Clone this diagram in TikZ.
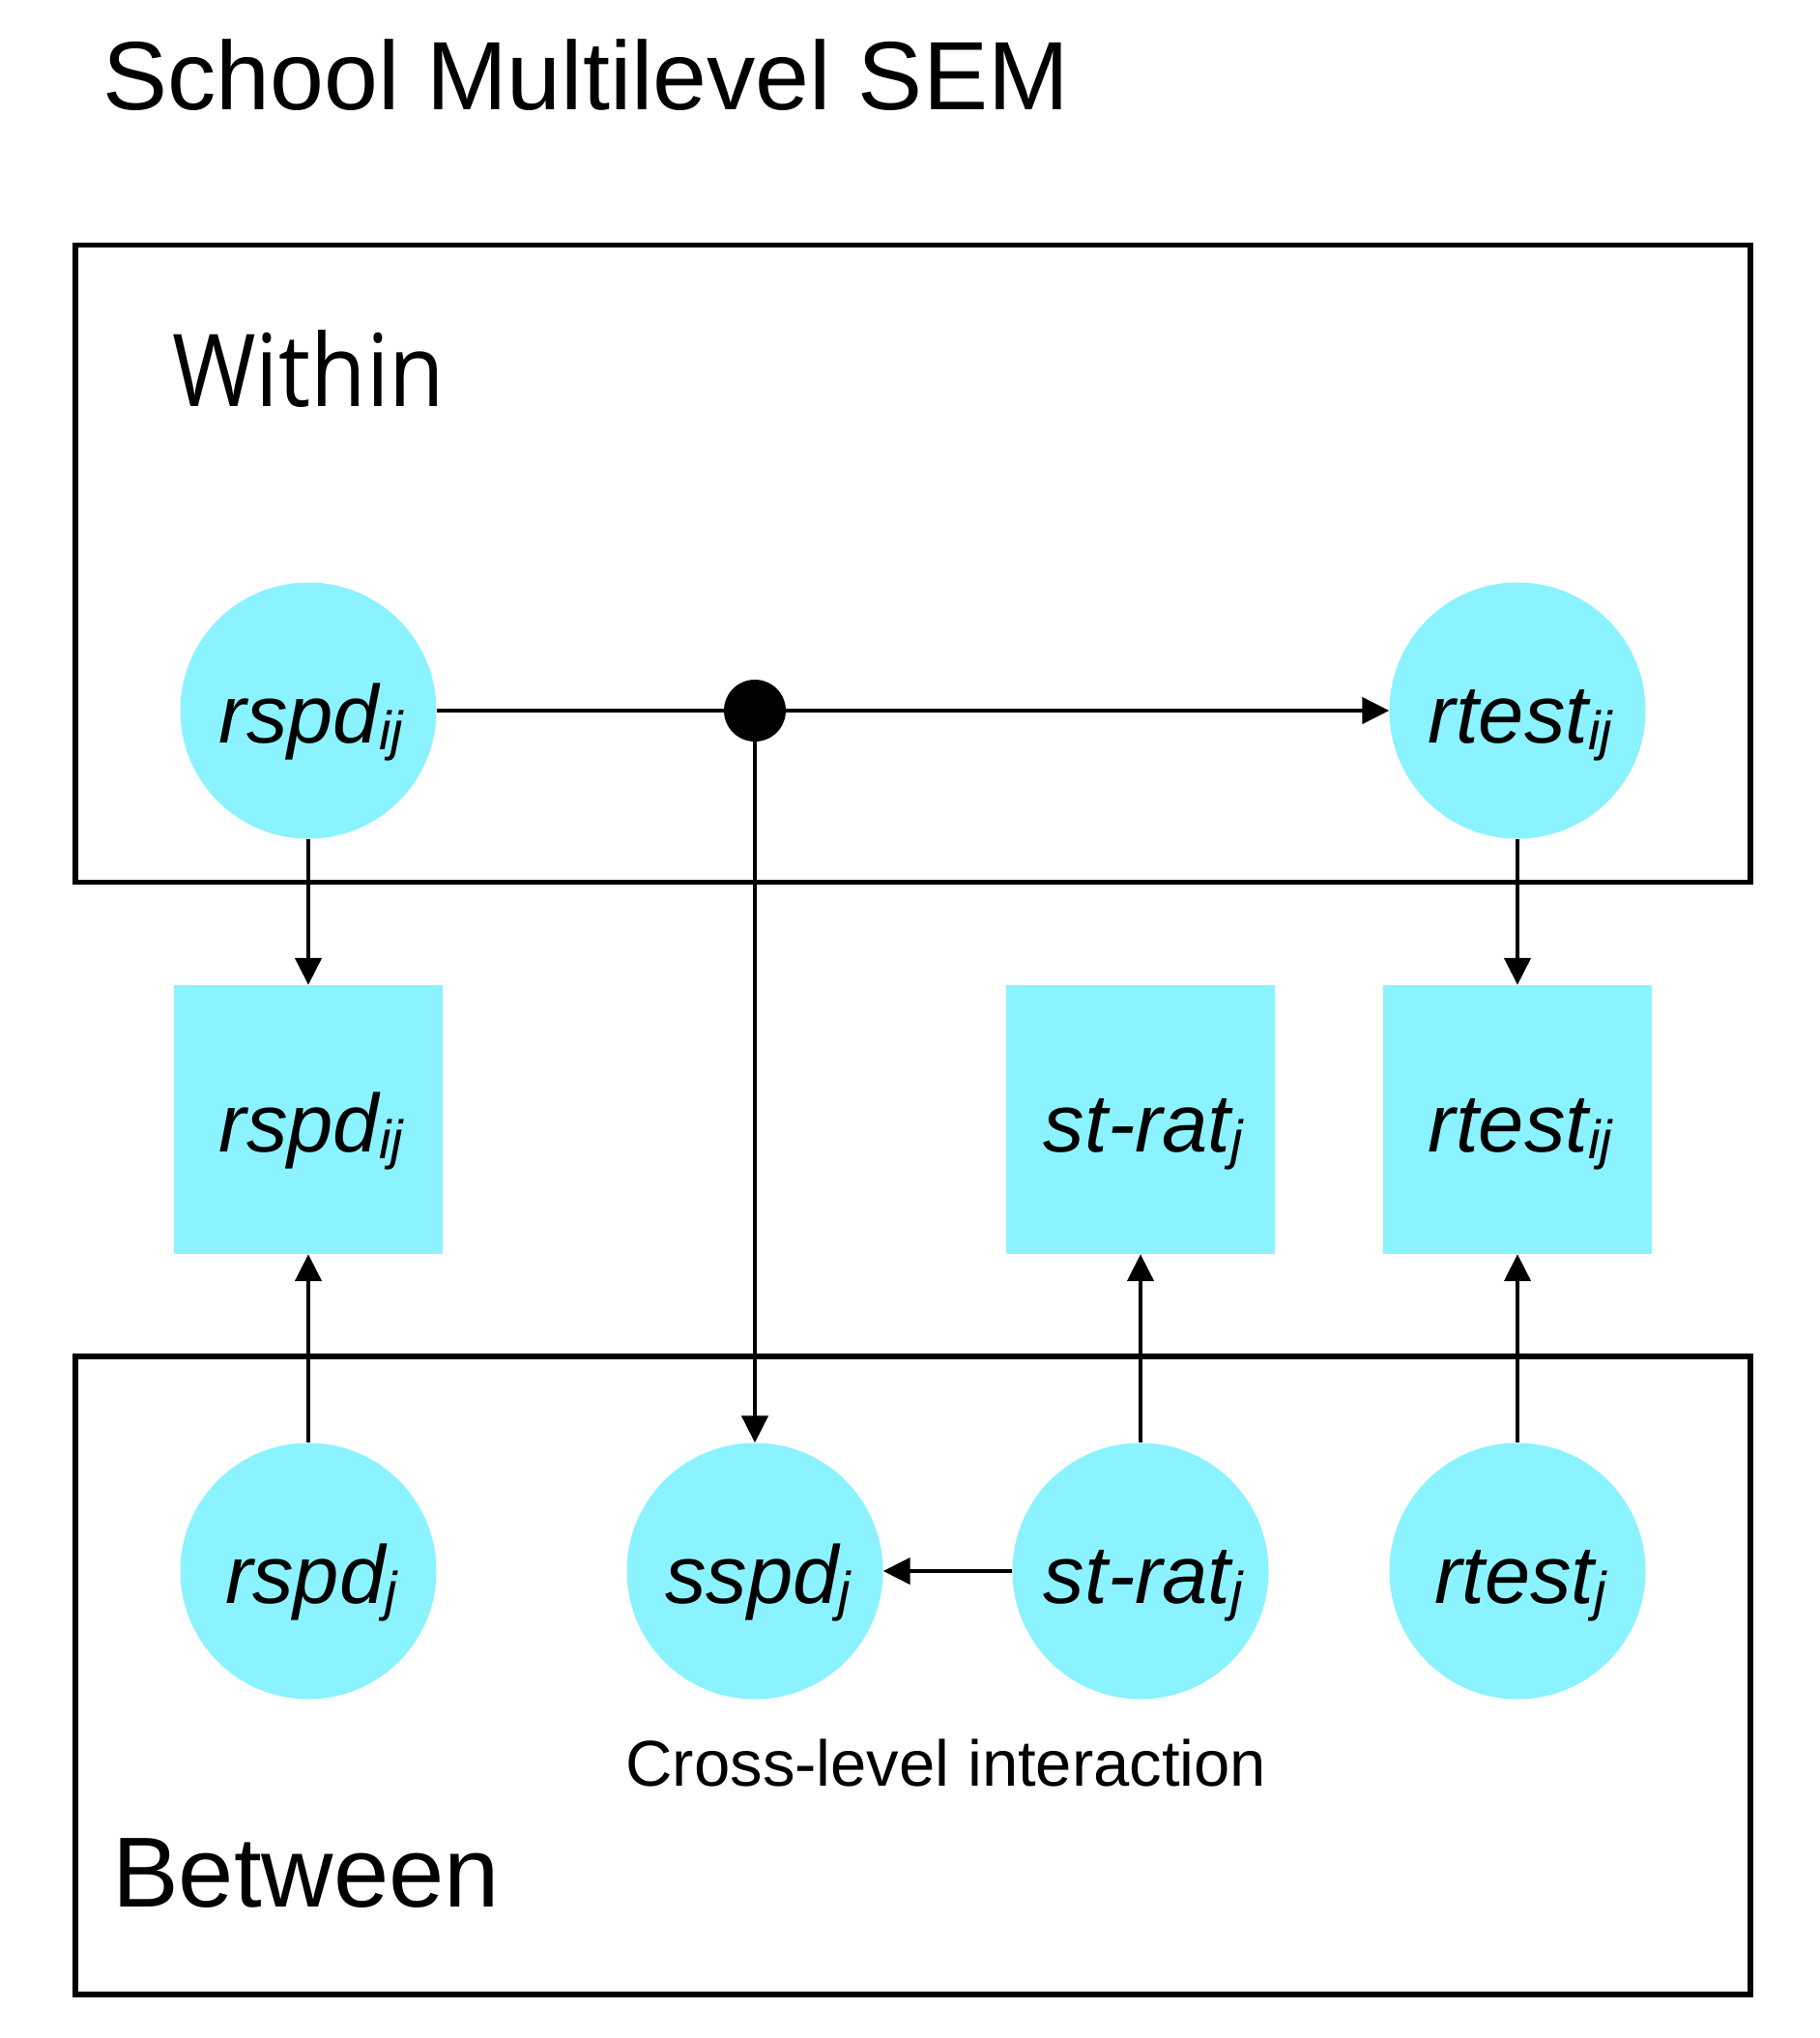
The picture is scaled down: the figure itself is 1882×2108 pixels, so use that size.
\documentclass[tikz,border=0pt]{standalone}
\usepackage{fontspec}
\setmainfont{Liberation Sans}
\newfontfamily\withinfont[FakeStretch=0.9]{Open Sans}
\usetikzlibrary{arrows.meta}
\definecolor{nodecyan}{RGB}{138,243,255}
\newcommand\lsub[1]{\raisebox{-7pt}{\fontsize{56}{60}\selectfont #1}}
\tikzset{
  varlbl/.style={font=\fontsize{85}{90}\selectfont\itshape, text height=66pt, text depth=0pt, inner sep=0pt},
  latent/.style={varlbl, circle, fill=nodecyan, minimum size=265pt},
  observed/.style={varlbl, rectangle, fill=nodecyan, minimum size=278pt},
  levelbox/.style={draw=black, line width=5.5pt},
  conn/.style={draw=black, line width=4.5pt},
  arr/.style={conn, -{Triangle[length=28pt, width=27pt]}},
}
\begin{document}
\begin{tikzpicture}[x=1pt, y=-1pt]
\useasboundingbox (0,0) rectangle (1882,2108);
% level boxes
\draw[levelbox] (78,253.5) rectangle (1811,912.7);
\draw[levelbox] (78,1403) rectangle (1811,2063);
% titles
\node[anchor=base west, inner sep=0pt, font=\fontsize{100.5}{110}\selectfont] (title) at (106,114) {School Multilevel SEM};
\node[anchor=base west, inner sep=0pt, font=\withinfont\fontsize{104}{110}\selectfont] (within) at (178,420) {Within};
\node[anchor=base west, inner sep=0pt, font=\fontsize{103}{110}\selectfont] (between) at (116,1972) {Between};
\node[anchor=base, inner sep=0pt, font=\fontsize{67}{72}\selectfont] (cross) at (979,1847) {Cross-level interaction};
% within nodes
\node[latent] (wr) at (319,735) {\hspace{6pt}rspd\lsub{ij}};
\node[latent] (wt) at (1570,735) {\hspace{6pt}rtest\lsub{ij}};
\node[circle, fill=black, minimum size=64pt, inner sep=0pt] (dot) at (781,735) {};
% observed
\node[observed] (or) at (319,1158) {\hspace{6pt}rspd\lsub{ij}};
\node[observed] (os) at (1180,1158) {\hspace{6pt}st-rat\lsub{j}};
\node[observed] (ot) at (1570,1158) {\hspace{6pt}rtest\lsub{ij}};
% between nodes
\node[latent] (br) at (319,1625) {\hspace{6pt}rspd\lsub{j}};
\node[latent] (bs) at (781,1625) {\hspace{6pt}sspd\lsub{j}};
\node[latent] (bq) at (1180,1625) {\hspace{6pt}st-rat\lsub{j}};
\node[latent] (bt) at (1570,1625) {\hspace{6pt}rtest\lsub{j}};
% connectors
\draw[conn] (wr) -- (dot);
\draw[arr] (dot) -- (wt);
\draw[arr] (dot) -- (bs);
\draw[arr] (wr) -- (or);
\draw[arr] (wt) -- (ot);
\draw[arr] (br) -- (or);
\draw[arr] (bq) -- (os);
\draw[arr] (bt) -- (ot);
\draw[arr] (bq) -- (bs);
\end{tikzpicture}
\end{document}
